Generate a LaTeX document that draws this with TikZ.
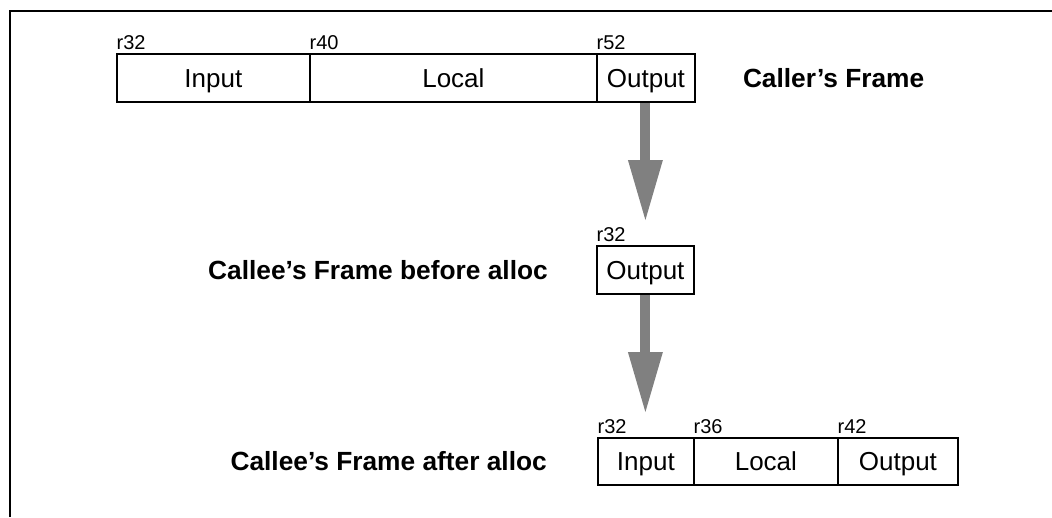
\documentclass[tikz,border=0pt]{standalone}
\usepackage{fontspec}
\setmainfont{Liberation Sans}
\usetikzlibrary{arrows.meta}
\begin{document}
\begin{tikzpicture}[x=1pt,y=-1pt,
  cell/.style={draw, line width=1.8pt, inner sep=0pt, anchor=north west,
    minimum height=48pt, text height=18.6pt, text depth=0pt,
    font=\fontsize{26}{30}\selectfont},
  reglabel/.style={anchor=base west, inner sep=0pt, font=\fontsize{20}{24}\selectfont},
  framelabel/.style={inner sep=0pt, text height=18.6pt, text depth=0pt,
    font=\fontsize{26.3}{30}\selectfont\bfseries},
  bigarrow/.style={draw=gray, line width=10pt,
    -{Triangle[width=35pt,length=60pt,line width=0pt]}, shorten >=25pt}]
\useasboundingbox (0,0) rectangle (1052,517);
% frame lines (top and left only)
\draw[line width=2pt] (10,517) -- (10,11) -- (1052,11);
% caller's frame
\node[cell, minimum width=193pt] (in1) at (116,53) {Input};
\node[cell, minimum width=287pt] (loc1) at (309,53) {Local};
\node[cell, minimum width=98pt] (out1) at (596,53) {Output};
\node[reglabel] (r1a) at ([xshift=0.5pt,yshift=4pt]in1.north west) {r32};
\node[reglabel] (r1b) at ([xshift=0.5pt,yshift=4pt]loc1.north west) {r40};
\node[reglabel] (r1c) at ([xshift=0.5pt,yshift=4pt]out1.north west) {r52};
\node[framelabel, anchor=west] (callerlbl) at ([xshift=47pt]out1.east) {Caller’s Frame};
% callee before alloc
\node[cell, minimum width=97pt] (out2) at (596,245) {Output};
\node[reglabel] (r2a) at ([xshift=0.5pt,yshift=4pt]out2.north west) {r32};
\node[framelabel, anchor=east] (beforelbl) at ([xshift=-48pt]out2.west) {Callee’s Frame before alloc};
% callee after alloc
\node[cell, minimum width=96pt, minimum height=47pt] (in3) at (597,437) {Input};
\node[cell, minimum width=144pt, minimum height=47pt] (loc3) at (693,437) {Local};
\node[cell, minimum width=120pt, minimum height=47pt] (out3) at (837,437) {Output};
\node[reglabel] (r3a) at ([xshift=0.5pt,yshift=4pt]in3.north west) {r32};
\node[reglabel] (r3b) at ([xshift=0.5pt,yshift=4pt]loc3.north west) {r36};
\node[reglabel] (r3c) at ([xshift=0.5pt,yshift=4pt]out3.north west) {r42};
\node[framelabel, anchor=east] (afterlbl) at ([xshift=-50pt]in3.west) {Callee’s Frame after alloc};
% arrows
\draw[bigarrow] ([xshift=-0.5pt]out1.south) -- ([xshift=-0.5pt]out1.south |- out2.north);
\draw[bigarrow] (out2.south) -- (out2.south |- in3.north);
\end{tikzpicture}
\end{document}
